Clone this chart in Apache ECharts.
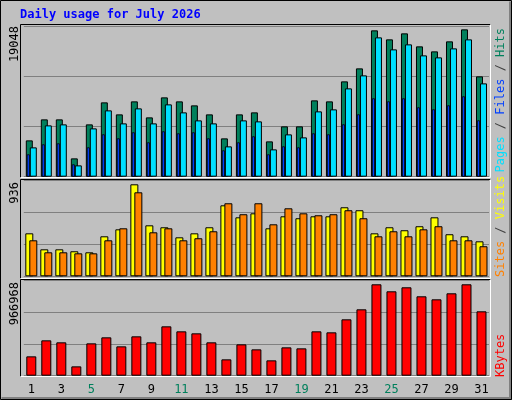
<!DOCTYPE html>
<html><head><meta charset="utf-8">
<script src="https://cdn.jsdelivr.net/npm/echarts@6/dist/echarts.min.js"></script>
<style>html,body{margin:0;padding:0;background:#c0c0c0}#c{width:512px;height:400px}</style>
</head><body><div id="c"></div>
<script>
const days = ['1','2','3','4','5','6','7','8','9','10','11','12','13','14','15','16','17','18','19','20','21','22','23','24','25','26','27','28','29','30','31'];
const weekendDays = ['4','5','11','12','18','19','25','26'];
const hits = [4614,7281,7281,2328,6646,9440,7916,9567,7535,10075,9567,9059,7916,4868,7916,8170,4487,6392,6392,9694,9567,12106,13757,18583,17440,18202,16551,15916,17186,18710,12741];
const pagesCyan = [3725,6519,6646,1439,6138,8424,6773,8678,6773,9186,8170,7154,6773,3852,7154,7027,3471,5376,4995,8297,8551,11217,12868,17694,16170,16805,15408,15154,16297,17440,11852];
const filesBlue = [2836,4106,4233,1566,3725,5376,4868,5630,4360,5757,5503,5630,4868,3344,4360,5122,2836,3852,3725,5503,5376,6646,7916,9948,9567,9948,8805,8551,9059,10202,7154];
const visits = [419,263,263,244,234,390,458,897,497,478,380,419,478,692,575,614,468,585,566,585,585,673,644,419,478,449,488,575,410,390,341];
const sites = [351,234,234,224,224,351,468,819,429,468,351,371,439,712,605,712,507,663,614,595,605,644,566,390,439,390,458,488,351,351,293];
const kbytes = [196098,358386,338100,94668,327957,388815,297528,398958,338100,500388,449673,429387,338100,165669,317814,267099,155526,287385,277242,449673,439530,571389,672819,926394,855393,895965,804678,774249,835107,926394,652533];
const maxLabels = ['19048','936','966968'];
const maxValues = [19048,936,966968];
const title = 'Daily usage for July 2026';

const font = '"DejaVu Sans Mono", monospace';
const L = 23.8, W = 465.2;
const panels = [{top:26.7,h:150},{top:180.3,h:96},{top:280.3,h:95.4}];
const grids = [
  {left:L,top:panels[0].top,width:W,height:panels[0].h},
  {left:L-3,top:panels[0].top,width:W,height:panels[0].h},
  {left:L,top:panels[1].top,width:W,height:panels[1].h},
  {left:L,top:panels[2].top,width:W,height:panels[2].h}
];
const xAxes = grids.map((g,i)=>({type:'category',gridIndex:i,data:days,
  axisLine:{show:false},axisTick:{show:false},
  axisLabel:{show:i===3,margin:8,fontFamily:font,fontSize:12,
    color:(v)=>weekendDays.includes(v)?'#00805c':'#000'}}));
const yMax=[maxValues[0],maxValues[0],maxValues[1],maxValues[2]];
const yAxes = grids.map((g,i)=>({type:'value',gridIndex:i,min:0,max:yMax[i],interval:yMax[i]/3,
  axisLabel:{show:false},axisLine:{show:false},axisTick:{show:false},
  splitLine:{show:i!==1,lineStyle:{color:'#808080',width:1}}}));
const bs={borderColor:'#000',borderWidth:1};
const series=[
  {type:'bar',xAxisIndex:0,yAxisIndex:0,data:hits,barWidth:7,barGap:'-43%',itemStyle:{color:'#00805c',...bs},z:2},
  {type:'bar',xAxisIndex:0,yAxisIndex:0,data:pagesCyan,barWidth:7,itemStyle:{color:'#00e0ff',...bs},z:3},
  {type:'bar',xAxisIndex:1,yAxisIndex:1,data:filesBlue,barWidth:3,itemStyle:{color:'#0040ff',borderColor:'#000',borderWidth:0.8},z:4},
  {type:'bar',xAxisIndex:2,yAxisIndex:2,data:visits,barWidth:8,barGap:'-50%',itemStyle:{color:'#ffff00',...bs},z:2},
  {type:'bar',xAxisIndex:2,yAxisIndex:2,data:sites,barWidth:8,itemStyle:{color:'#ff8000',...bs},z:3},
  {type:'bar',xAxisIndex:3,yAxisIndex:3,data:kbytes,barWidth:10,itemStyle:{color:'#ff0000',...bs},z:2}
];
function frame(y1,y2){
  return [
    {type:'polyline',shape:{points:[[20.5,y2],[20.5,y1],[490.5,y1]]},style:{stroke:'#000',lineWidth:1,fill:null},z:1},
    {type:'polyline',shape:{points:[[20.5,y2],[490.5,y2],[490.5,y1]]},style:{stroke:'#fff',lineWidth:1,fill:null},z:1}
  ];
}
function vtext(x,y,align,text,rich,color){
  return {type:'text',x:x,y:y,rotation:Math.PI/2,z:10,
    style:{text:text,rich:rich,fill:color||'#000',font:'12px '+font,align:align,verticalAlign:'middle'}};
}
const graphic=[
  {type:'polyline',shape:{points:[[0.5,399.5],[0.5,0.5],[511.5,0.5]]},style:{stroke:'#000',fill:null},z:1},
  {type:'polyline',shape:{points:[[1.5,398.5],[510.5,398.5],[510.5,1.5]]},style:{stroke:'#808080',lineWidth:3,fill:null},z:1},
  {type:'polyline',shape:{points:[[0.5,399.5],[511.5,399.5],[511.5,0.5]]},style:{stroke:'#000',fill:null},z:1},
  ...frame(24.5,177.5),...frame(179.5,278.5),...frame(279.5,376.5),
  {type:'text',x:20,y:15,z:10,style:{text:title,fill:'#0000ff',font:'bold 12px '+font,verticalAlign:'middle'}},
  vtext(15,26,'right',maxLabels[0]),
  vtext(15,182,'right',maxLabels[1]),
  vtext(15,282,'right',maxLabels[2]),
  vtext(501,28,'right','{p|Pages} / {f|Files} / {h|Hits}',{p:{fill:'#00e0ff',font:'12px '+font},f:{fill:'#0040ff',font:'12px '+font},h:{fill:'#00805c',font:'12px '+font}},'#404040'),
  vtext(501,277,'left','{s|Sites} / {v|Visits}',{s:{fill:'#ff8000',font:'12px '+font},v:{fill:'#ffff00',font:'12px '+font}},'#404040'),
  vtext(501,377,'left','KBytes',null,'#ff0000')
];
const chart=echarts.init(document.getElementById('c'),null,{renderer:'canvas'});
chart.setOption({backgroundColor:'#c0c0c0',animation:false,grid:grids,xAxis:xAxes,yAxis:yAxes,series:series,graphic:graphic});
</script></body></html>
